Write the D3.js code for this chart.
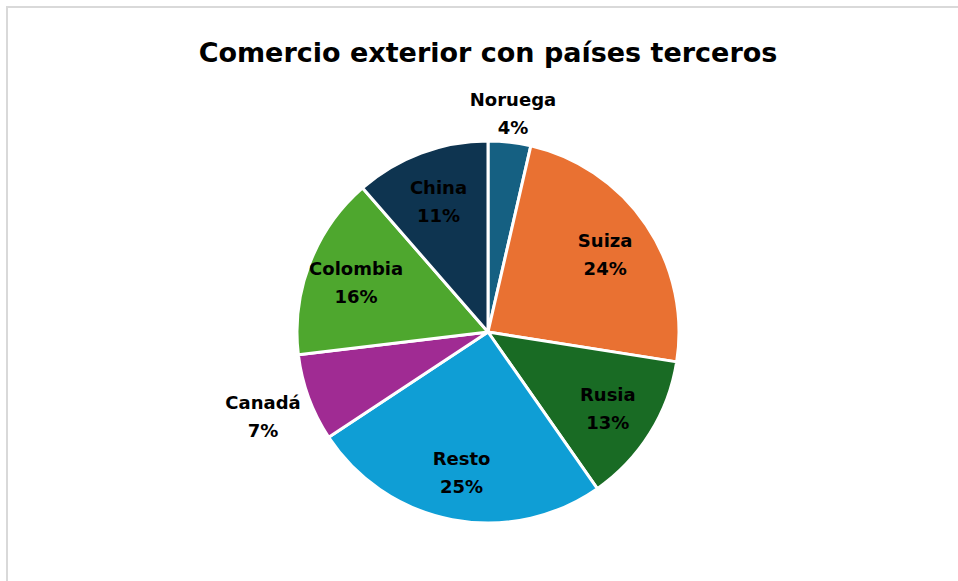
<!DOCTYPE html>
<html>
  <head>
    <meta charset="utf-8">
    <title>Comercio exterior con países terceros</title>
    <script src="https://cdn.jsdelivr.net/npm/d3@7"></script>
    <style>
      body { margin: 0; background: #fff; }
      text { font-family: "DejaVu Sans", "Liberation Sans", Arial, sans-serif; }
    </style>
  </head>
  <body>
    <script type="text/javascript">

    var width = 958,
        height = 581;

    var paises = ["Noruega", "Suiza", "Rusia", "Resto", "Canadá", "Colombia", "China"];
    // shares; labels show them rounded
    var valores = [3.6, 23.9, 12.8, 25.4, 7.4, 15.5, 11.4];
    var colores = ["#156082", "#e97132", "#196b24", "#0f9ed5", "#a02b93", "#4ea72e", "#0e3450"];

    var data = paises.map(function(p, i) {
      return {pais: p, valor: valores[i]};
    });

    var cx = 488, cy = 332, radius = 191;

    var svg = d3.select("body").append("svg")
        .attr("width", width)
        .attr("height", height);

    // chart frame (only top and left edges are visible in the crop)
    svg.append("rect")
        .attr("x", 7).attr("y", 7)
        .attr("width", width + 20).attr("height", height + 20)
        .attr("fill", "none")
        .attr("stroke", "#d9d9d9")
        .attr("stroke-width", 2);

    svg.append("text")
        .attr("x", cx)
        .attr("y", 62)
        .attr("text-anchor", "middle")
        .attr("font-size", 27)
        .attr("font-weight", "bold")
        .attr("fill", "#000")
        .text("Comercio exterior con países terceros");

    var color = d3.scaleOrdinal().domain(paises).range(colores);

    var pie = d3.pie()
        .sort(null)
        .value(function(d) { return d.valor; });

    var arc = d3.arc()
        .innerRadius(0)
        .outerRadius(radius);

    var g = svg.append("g")
        .attr("transform", "translate(" + cx + "," + cy + ")");

    var arcs = pie(data);

    g.selectAll("path")
        .data(arcs)
      .enter().append("path")
        .attr("d", arc)
        .attr("fill", function(d) { return color(d.data.pais); })
        .attr("stroke", "#fff")
        .attr("stroke-width", 3)
        .attr("stroke-linejoin", "round");

    // small slices get their label outside the pie
    function labelPos(d) {
      var a = (d.startAngle + d.endAngle) / 2;
      var r = d.data.valor < 8 ? radius + 28 + Math.abs(Math.sin(a)) * 22 : radius * 0.74;
      return [Math.sin(a) * r, -Math.cos(a) * r];
    }

    var labels = g.selectAll("text.lbl")
        .data(arcs)
      .enter().append("text")
        .attr("class", "lbl")
        .attr("text-anchor", "middle")
        .attr("font-size", 18)
        .attr("font-weight", "bold")
        .attr("fill", "#000")
        .attr("transform", function(d) {
          var p = labelPos(d);
          return "translate(" + p[0] + "," + p[1] + ")";
        });

    labels.append("tspan")
        .attr("x", 0)
        .attr("y", -6)
        .text(function(d) { return d.data.pais; });

    labels.append("tspan")
        .attr("x", 0)
        .attr("y", 22)
        .text(function(d) { return Math.round(d.data.valor) + "%"; });

    </script>
  </body>
</html>
